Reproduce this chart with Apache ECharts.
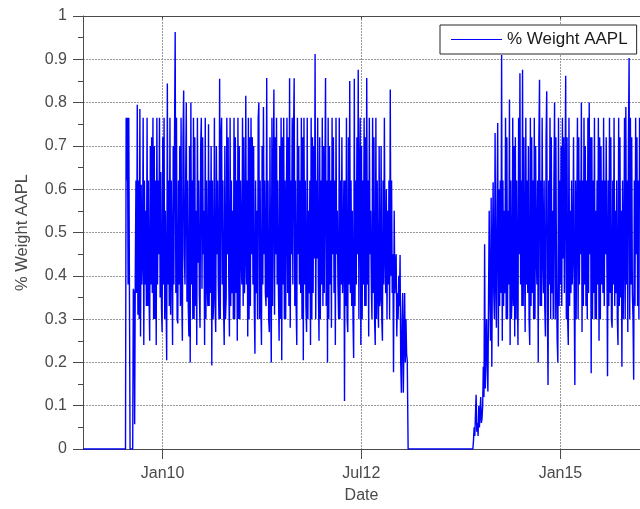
<!DOCTYPE html>
<html>
<head>
<meta charset="utf-8">
<script src="https://cdn.jsdelivr.net/npm/echarts@6/dist/echarts.min.js"></script>
<style>html,body{margin:0;padding:0;background:#fff}#c{width:640px;height:509px}</style>
</head>
<body>
<div id="c"></div>
<script>
// ---- data ----
const xTickDates = ['2010-01-01', '2012-07-01', '2015-01-01'];
const xTickLabels = ['Jan10', 'Jul12', 'Jan15'];
const xRange = ['2009-01-01', '2016-01-01'];
const seriesName = '% Weight AAPL';
const stepDays = 3;

const leadDates = ['2009-01-01', '2009-07-15'];
const leadValues = [0, 0];

const seg1Start = '2009-07-18';
const seg1Values = [
0.765,0.62,0.765,0.38,0.765,0.765,0,0,0,0, 0,0.37,0.36,0.057,0.41,0.62,0.36,0.795,0.31,0.62,
0.3,0.785,0.26,0.61,0.38,0.45,0.765,0.24,0.62,0.38, 0.55,0.33,0.765,0.33,0.62,0.36,0.25,0.7,0.38,0.72,
0.36,0.765,0.3,0.7,0.3,0.62,0.24,0.765,0.38,0.62, 0.45,0.765,0.35,0.64,0.33,0.27,0.72,0.38,0.765,0.3,
0.55,0.36,0.205,0.844,0.38,0.62,0.33,0.765,0.31,0.62, 0.45,0.24,0.7,0.38,0.72,0.963,0.36,0.765,0.3,0.29,
0.62,0.38,0.7,0.33,0.765,0.36,0.25,0.72,0.828,0.45, 0.38,0.62,0.80,0.34,0.62,0.33,0.26,0.7,0.2,0.80,
0.38,0.62,0.3,0.765,0.3,0.72,0.33,0.55,0.24,0.765, 0.43,0.62,0.36,0.28,0.7,0.765,0.37,0.72,0.45,0.55,
0.24,0.765,0.3,0.62,0.38,0.33,0.75,0.33,0.62,0.36, 0.7,0.193,0.62,0.3,0.36,0.765,0.33,0.27,0.7,0.45,
0.62,0.38,0.3,0.855,0.3,0.72,0.765,0.38,0.62,0.33, 0.24,0.7,0.3,0.35,0.765,0.45,0.72,0.38,0.26,0.765,
0.33,0.62,0.36,0.55,0.3,0.765,0.3,0.72,0.36,0.62, 0.25,0.765,0.3,0.7,0.3,0.62,0.45,0.38,0.765,0.33,
0.72,0.36,0.45,0.816,0.38,0.62,0.26,0.765,0.3,0.72, 0.33,0.765,0.45,0.72,0.38,0.7,0.33,0.22,0.62,0.36,
0.55,0.3,0.765,0.80,0.3,0.62,0.33,0.24,0.7,0.38, 0.79,0.45,0.62,0.36,0.33,0.857,0.35,0.62,0.3,0.27,
0.72,0.38,0.2,0.765,0.33,0.62,0.83,0.31,0.72,0.45, 0.765,0.38,0.62,0.36,0.25,0.7,0.3,0.765,0.205,0.72,
0.38,0.765,0.3,0.62,0.3,0.55,0.765,0.36,0.72,0.33, 0.856,0.28,0.62,0.45,0.765,0.38,0.72,0.856,0.33,0.62,
0.33,0.24,0.765,0.45,0.7,0.38,0.62,0.36,0.765,0.3, 0.72,0.205,0.765,0.38,0.62,0.33,0.27,0.765,0.3,0.55,
0.36,0.62,0.24,0.765,0.3,0.72,0.36,0.7,0.44,0.912, 0.3,0.62,0.44,0.765,0.38,0.25,0.72,0.3,0.62,0.38,
0.765,0.33,0.7,0.36,0.62,0.857,0.33,0.62,0.2,0.765, 0.3,0.7,0.38,0.62,0.28,0.765,0.45,0.72,0.36,0.62,
0.24,0.765,0.45,0.55,0.38,0.3,0.765,0.3,0.62,0.38, 0.72,0.36,0.45,0.62,0.111,0.62,0.33,0.765,0.3,0.27,
0.72,0.38,0.85,0.36,0.62,0.33,0.55,0.3,0.21,0.855, 0.33,0.62,0.38,0.72,0.45,0.876,0.3,0.62,0.765,0.24,
0.7,0.3,0.62,0.38,0.765,0.33,0.72,0.33,0.857,0.38, 0.62,0.26,0.765,0.45,0.55,0.38,0.3,0.765,0.36,0.72,
0.3,0.24,0.765,0.3,0.62,0.36,0.28,0.7,0.33,0.35, 0.7,0.3,0.25,0.62,0.38,0.765,0.45,0.36,0.6,0.3,
0.55,0.38,0.62,0.3,0.83,0.4,0.62,0.36,0.45,0.177, 0.55,0.36,0.42,0.45,0.26,0.36,0.3,0.4,0.33,0.448,
0.2,0.13,0.294,0.36,0.13,0.25,0.36,0.2,0.3,0.22,0.205
];

const gapDates = ['2013-02-01', '2013-11-25'];
const gapValues = [0, 0];

const seg2Start = '2013-11-28';
const seg2Values = [
0.02,0.05,0.03,0.08,0.125,0.04,0.06,0.03,0.1,0.05, 0.08,0.12,0.06,0.07,0.1,0.19,0.12,0.473,0.14,0.22,
0.3,0.19,0.133,0.35,0.55,0.35,0.25,0.58,0.19,0.45, 0.616,0.36,0.3,0.73,0.4,0.28,0.55,0.753,0.237,0.6,
0.33,0.62,0.36,0.91,0.25,0.62,0.33,0.55,0.36,0.765, 0.3,0.72,0.3,0.55,0.38,0.807,0.24,0.62,0.3,0.36,
0.765,0.33,0.7,0.26,0.72,0.3,0.62,0.38,0.24,0.765, 0.45,0.868,0.38,0.62,0.33,0.876,0.33,0.72,0.45,0.27,
0.765,0.38,0.62,0.36,0.7,0.3,0.24,0.765,0.33,0.72, 0.36,0.62,0.3,0.765,0.3,0.7,0.45,0.38,0.62,0.2,
0.72,0.853,0.33,0.62,0.33,0.765,0.45,0.36,0.62,0.33, 0.26,0.72,0.826,0.33,0.148,0.62,0.38,0.765,0.3,0.72,
0.36,0.55,0.3,0.62,0.8,0.3,0.72,0.38,0.25,0.2, 0.765,0.33,0.62,0.38,0.7,0.33,0.765,0.44,0.72,0.36,
0.62,0.862,0.3,0.72,0.3,0.24,0.765,0.33,0.55,0.36, 0.62,0.38,0.45,0.72,0.36,0.148,0.62,0.3,0.3,0.765,
0.3,0.72,0.38,0.62,0.45,0.8,0.27,0.62,0.33,0.765, 0.38,0.7,0.33,0.62,0.3,0.765,0.36,0.8,0.45,0.72,
0.175,0.72,0.3,0.62,0.36,0.765,0.3,0.55,0.3,0.62, 0.38,0.765,0.25,0.72,0.3,0.7,0.38,0.62,0.36,0.765,
0.33,0.62,0.45,0.72,0.44,0.168,0.62,0.33,0.765,0.36, 0.72,0.3,0.28,0.62,0.38,0.765,0.33,0.55,0.36,0.62,
0.3,0.24,0.765,0.33,0.72,0.35,0.55,0.19,0.62,0.3, 0.45,0.765,0.3,0.79,0.38,0.62,0.27,0.72,0.903,0.3,
0.765,0.38,0.72,0.36,0.3,0.16,0.62,0.33,0.765,0.45, 0.72,0.33,0.62,0.3,0.765
];

// ---- build ----
const DAY = 86400000;
const ts = s => Date.parse(s + 'T00:00:00Z');
const pts = [];
leadDates.forEach((d, i) => pts.push([ts(d), leadValues[i]]));
seg1Values.forEach((v, i) => pts.push([ts(seg1Start) + i * stepDays * DAY, v]));
gapDates.forEach((d, i) => pts.push([ts(d), gapValues[i]]));
seg2Values.forEach((v, i) => pts.push([ts(seg2Start) + i * stepDays * DAY, v]));

const tickVals = xTickDates.map(ts);
const FONT = '"Liberation Sans", Arial, Helvetica, sans-serif';
const AX = '#4a4a4a';

const chart = echarts.init(document.getElementById('c'), null, {renderer: 'canvas'});
chart.setOption({
  animation: false,
  backgroundColor: '#fff',
  textStyle: {fontFamily: FONT},
  grid: {left: 83, top: 16, width: 561, height: 435, containLabel: false},
  legend: {
    left: 440, top: 25,
    padding: [6, 9, 6, 11],
    icon: 'rect',
    itemWidth: 51, itemHeight: 1,
    borderColor: '#262626', borderWidth: 1, borderRadius: 0,
    backgroundColor: '#fff',
    textStyle: {fontSize: 17, color: '#1a1a1a', fontFamily: FONT},
    data: [seriesName]
  },
  xAxis: [{
    type: 'value',
    min: ts(xRange[0]), max: ts(xRange[1]),
    name: 'Date', nameLocation: 'middle', nameGap: 39,
    nameTextStyle: {fontSize: 16, color: AX, fontFamily: FONT},
    axisLine: {show: true, onZero: false, lineStyle: {color: AX, width: 1}},
    axisTick: {show: true, inside: false, length: 10, customValues: tickVals, lineStyle: {color: AX}},
    axisLabel: {
      customValues: tickVals, margin: 17, fontSize: 16, color: AX, fontFamily: FONT,
      formatter: v => { const k = tickVals.indexOf(v); return k >= 0 ? xTickLabels[k] : ''; }
    },
    splitLine: {show: true, lineStyle: {color: '#999', width: 1, type: [2, 1]}}
  }, {
    type: 'value', position: 'top',
    min: ts(xRange[0]), max: ts(xRange[1]),
    axisLine: {show: true, onZero: false, lineStyle: {color: AX, width: 1}},
    axisTick: {show: true, inside: true, length: 3, customValues: tickVals, lineStyle: {color: AX}},
    axisLabel: {show: false},
    splitLine: {show: false}
  }],
  yAxis: {
    type: 'value', min: 0, max: 1, interval: 0.1,
    name: '% Weight AAPL', nameLocation: 'middle', nameGap: 52,
    nameTextStyle: {fontSize: 16.5, color: AX, fontFamily: FONT},
    axisLine: {show: true, lineStyle: {color: AX, width: 1}},
    axisTick: {show: true, inside: false, length: 10, lineStyle: {color: AX}},
    minorTick: {show: true, splitNumber: 2, length: 5, lineStyle: {color: AX}},
    axisLabel: {margin: 16, fontSize: 16, color: AX, fontFamily: FONT},
    splitLine: {show: true, lineStyle: {color: '#999', width: 1, type: [2, 1]}}
  },
  series: [{
    name: seriesName,
    type: 'line',
    data: pts,
    symbol: 'none', showSymbol: false,
    sampling: null,
    lineStyle: {color: '#0000ff', width: 1.4},
    itemStyle: {color: '#0000ff'}
  }]
});
</script>
</body>
</html>
